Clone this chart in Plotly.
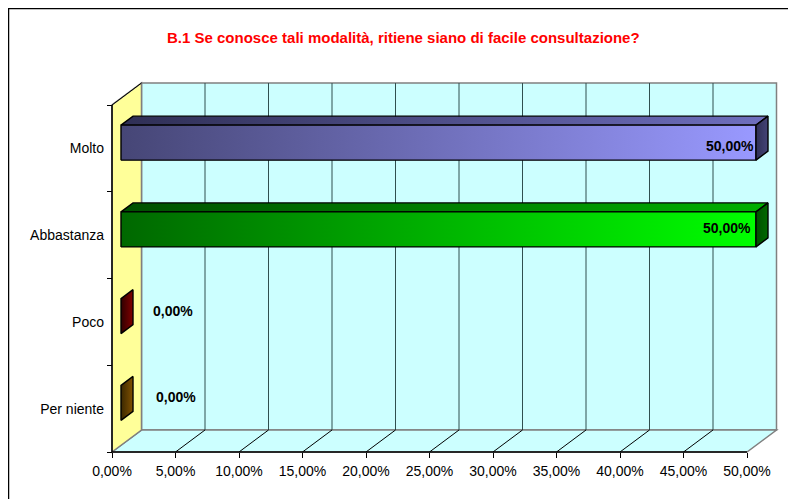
import plotly.graph_objects as go

PAGE = 8  # the page's own margin: figure pixels = window pixels - 8
W, H = 796, 491
TITLE = "B.1 Se conosce tali modalità, ritiene siano di facile consultazione?"
categories = ["Per niente", "Poco", "Abbastanza", "Molto"]
values = [0.0, 0.0, 50.0, 50.0]
labels = ["0,00%", "0,00%", "50,00%", "50,00%"]
tick_vals = [0, 5, 10, 15, 20, 25, 30, 35, 40, 45, 50]
tick_text = ["0,00%", "5,00%", "10,00%", "15,00%", "20,00%", "25,00%",
             "30,00%", "35,00%", "40,00%", "45,00%", "50,00%"]
colors = {
    "Molto": ("#464676", "#9999FF", "#2F2F55", "#6F6FBF", "#2F2F55", "#444478"),
    "Abbastanza": ("#006800", "#00FF00", "#004F00", "#00B000", "#004F00", "#006A00"),
    "Poco": ("#300000", "#800000", "#300000", "#800000", "#300000", "#800000"),
    "Per niente": ("#3A2800", "#805000", "#3A2800", "#805000", "#3A2800", "#805000"),
}

X0, X1 = 112.0 - PAGE, 747.0 - PAGE
YT, YB = 105.0 - PAGE, 452.0 - PAGE
DX, DY = 29.5, 22.0
px = (X1 - X0) / 50.0
py = (YB - YT) / 4.0
xr = [(0 - X0) / px, (W - X0) / px]
yr = [-0.5 - (H - YB) / py, -0.5 + YB / py]
ddx, ddy = DX / px, DY / py


def poly(points, grad, line="#000000", width=1.4):
    xs = [p[0] for p in points] + [points[0][0]]
    ys = [p[1] for p in points] + [points[0][1]]
    return go.Scatter(x=xs, y=ys, mode="lines", fill="toself", hoverinfo="skip",
                      fillgradient=dict(type="horizontal", colorscale=[[0, grad[0]], [1, grad[1]]]),
                      line=dict(color=line, width=width), showlegend=False)


fig = go.Figure()

barh = 35.0 / py
off_x = 9.0 / px
off_y = 5.75 / py
bdx, bdy = 12.0 / px, 9.0 / py
for c, (cat, val) in enumerate(zip(categories, values)):
    c0, c1, t0, t1, s0, s1 = colors[cat]
    l = off_x
    r = off_x + val
    b, t = c + off_y - barh / 2, c + off_y + barh / 2
    if val > 0:
        fig.add_trace(poly([(l, t), (l + bdx, t + bdy), (r + bdx, t + bdy), (r, t)], (t0, t1)))
        fig.add_trace(poly([(l, b), (r, b), (r, t), (l, t)], (c0, c1)))
    fig.add_trace(poly([(r, b), (r + bdx, b + bdy), (r + bdx, t + bdy), (r, t)], (s0, s1)))

annots = [dict(x=(403 - PAGE) / W, y=1 - (37 - PAGE) / H, xref="paper", yref="paper", text=f"<b>{TITLE}</b>",
               xanchor="center", yanchor="middle", showarrow=False,
               font=dict(color="#FF0000", size=15, family="Liberation Sans"))]

lab_x = {"Molto": 730, "Abbastanza": 727, "Poco": 172.5, "Per niente": 175.5}
lab_y = {"Molto": 146, "Abbastanza": 228, "Poco": 311, "Per niente": 397}
for cat, lab in zip(categories, labels):
    annots.append(dict(x=(lab_x[cat] - PAGE - X0) / px, y=-0.5 + (YB - (lab_y[cat] - PAGE)) / py,
                       text=f"<b>{lab}</b>", showarrow=False,
                       font=dict(color="#000000", size=14, family="Liberation Sans")))

shapes = []


def line(x0, y0, x1, y1, color, w=1.0):
    shapes.append(dict(type="line", x0=x0, y0=y0, x1=x1, y1=y1, xref="x", yref="y",
                       line=dict(color=color, width=w), layer="below"))


def quad(pts, fill, color, w=1.0):
    p = "M" + "L".join(f"{a},{b}" for a, b in pts) + "Z"
    shapes.append(dict(type="path", path=p, xref="x", yref="y", fillcolor=fill,
                       line=dict(color=color, width=w), layer="below"))


yb, yt = -0.5, 3.5
quad([(ddx, yb + ddy), (50 + ddx, yb + ddy), (50 + ddx, yt + ddy), (ddx, yt + ddy)], "#CCFFFF", "#808080", 1.5)
quad([(0, yb), (50, yb), (50 + ddx, yb + ddy), (ddx, yb + ddy)], "#CCFFFF", "#808080", 1.5)
quad([(0, yb), (ddx, yb + ddy), (ddx, yt + ddy), (0, yt)], "#FFFF99", "#808080", 1.5)
for v in tick_vals[1:-1]:
    line(v + ddx, yb + ddy, v + ddx, yt + ddy, "#2F4F4F")
    line(v, yb, v + ddx, yb + ddy, "#000000")
line(0, yb, 0, yt, "#000000", 1.5)
line(0, yb, 50, yb, "#000000", 1.5)
line(0, yt, ddx, yt + ddy, "#000000")
shapes.append(dict(type="rect", x0=0.5 / W, x1=1.1, y0=1 - 0.5 / H, y1=-0.1, xref="paper", yref="paper",
                   line=dict(color="#000000", width=1.5), layer="below"))

fig.update_layout(
    width=W, height=H, margin=dict(l=0, r=0, t=0, b=0), autosize=False,
    paper_bgcolor="#FFFFFF", plot_bgcolor="rgba(0,0,0,0)", showlegend=False,
    annotations=annots, shapes=shapes,
    font=dict(family="Liberation Sans", size=14, color="#000000"),
    xaxis=dict(range=xr, domain=[0, 1], tickvals=tick_vals, ticktext=tick_text, ticks="outside", ticklen=5,
               tickcolor="#000000", showgrid=False, zeroline=False, showline=False,
               anchor="free", position=(H - YB) / H, tickfont=dict(size=14, color="#000000"), ticklabelstandoff=1),
    yaxis=dict(range=yr, domain=[0, 1], tickmode="array", tickvals=[0, 1, 2, 3], ticktext=categories,
               ticks="", ticklabelstandoff=8, showgrid=False, zeroline=False, showline=False,
               minor=dict(tickmode="array", tickvals=[-0.5, 0.5, 1.5, 2.5, 3.5], ticks="outside", ticklen=5,
                          tickcolor="#000000", showgrid=False),
               anchor="free", position=X0 / W, tickfont=dict(size=14, color="#000000")),
)
fig.write_html("out.html", post_script="document.documentElement.style.overflow='hidden';")
